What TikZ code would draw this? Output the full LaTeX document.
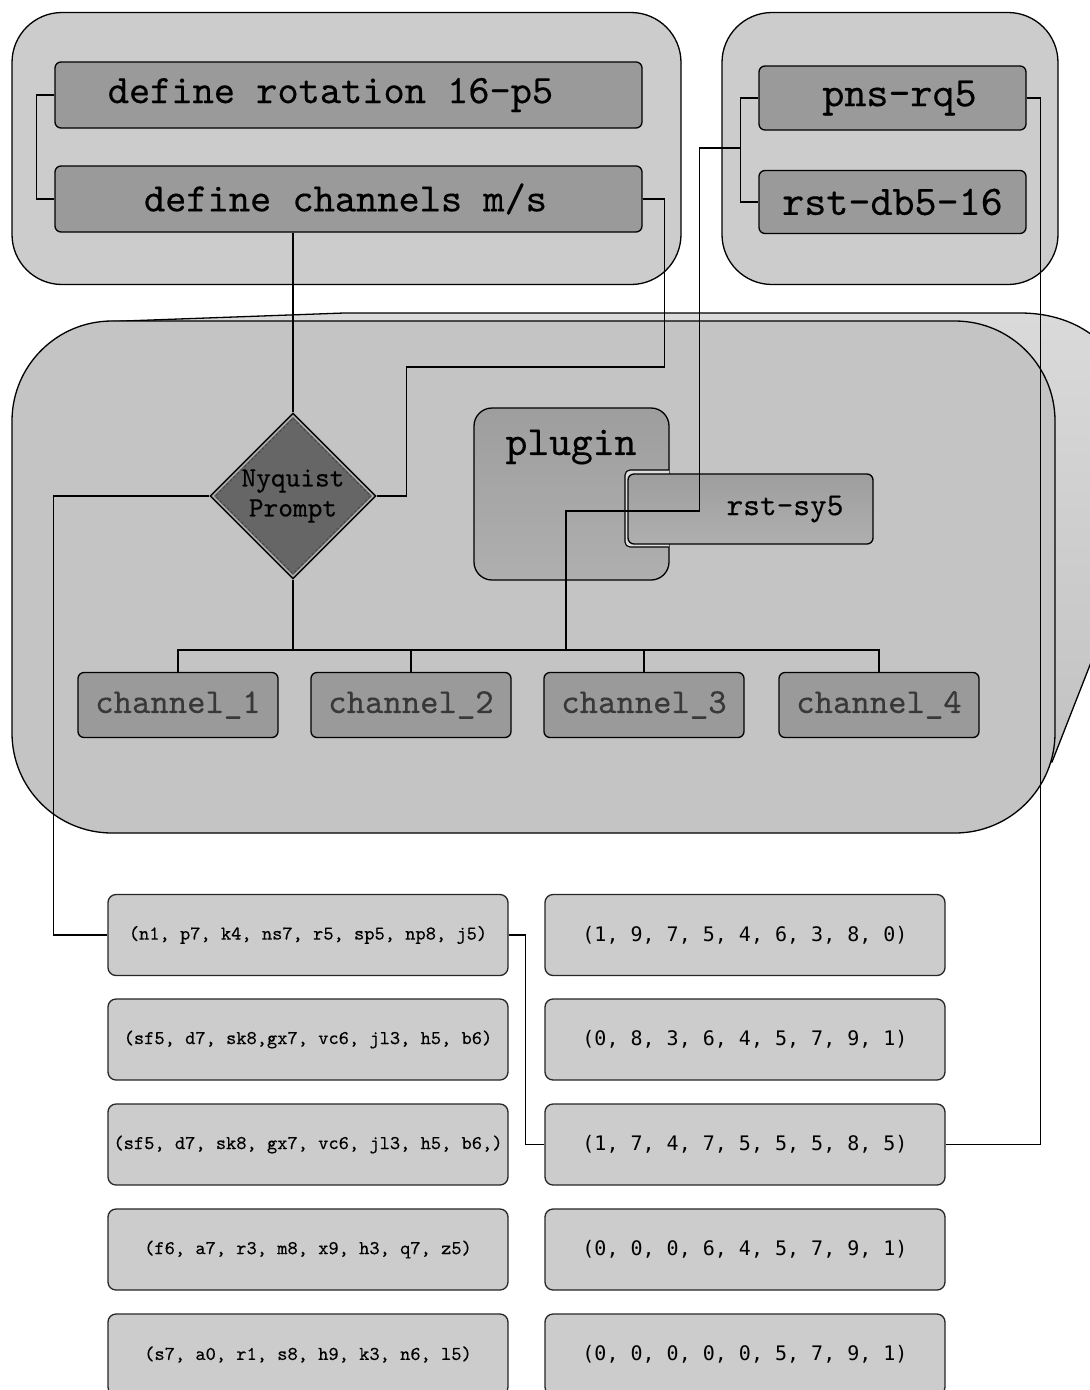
\documentclass[tikz,border=0pt]{standalone}
\usepackage{fontspec}
\newfontfamily\slabmono{lmmono10-regular.otf}[FakeBold=0.35]
\newfontfamily\digitmono{DejaVu Sans Mono}
\usetikzlibrary{shapes.geometric,calc}

\definecolor{groupgray}{HTML}{CCCCCC}
\definecolor{panelgray}{HTML}{C4C4C4}
\definecolor{boxgray}{HTML}{9A9A9A}
\definecolor{chantext}{HTML}{383838}
\definecolor{decisiongray}{HTML}{666666}
\definecolor{sidelight}{HTML}{DADADA}
\definecolor{sidedark}{HTML}{C2C2C2}
\definecolor{plugtop}{HTML}{9E9E9E}
\definecolor{plugbottom}{HTML}{AFAFAF}
\definecolor{gapgray}{HTML}{DEDEDE}

\begin{document}
\begin{tikzpicture}[x=1pt,y=-1pt,
  conn/.style={draw=black,line width=1.3pt},
  container/.style={draw=black,line width=1.3pt,fill=groupgray,rounded corners=50pt,inner sep=0pt},
  headbox/.style={draw=black,line width=1.3pt,fill=boxgray,rounded corners=6pt,inner sep=0pt,
    font=\slabmono\fontsize{40.4}{44}\selectfont},
  chanbox/.style={draw=black,line width=1.3pt,fill=boxgray,rounded corners=6pt,inner sep=0pt,
    minimum width=200pt,minimum height=65pt,text=chantext,font=\slabmono\fontsize{35}{38}\selectfont},
  tuplebox/.style={draw=black!85,line width=1.3pt,fill=groupgray,rounded corners=8pt,inner sep=0pt,
    minimum width=400pt,minimum height=81pt},
  lefttuple/.style={tuplebox,font=\slabmono\fontsize{19.5}{22}\selectfont},
  righttuple/.style={tuplebox,font=\digitmono\fontsize{20}{24}\selectfont},
  pluginbox/.style={draw=black,line width=1.3pt,top color=plugtop,bottom color=plugbottom,
    rounded corners=18pt,inner sep=0pt},
]
\useasboundingbox (0,0) rectangle (1090,1390);
\fill[white] (0,0) rectangle (1090,1390);

\begin{scope}
\clip (0,0) rectangle (1090,1390);

% top groups
\node[container,minimum width=669pt,minimum height=272pt] (groupL) at (346.5,148.5) {};
\node[container,minimum width=336pt,minimum height=272pt] (groupR) at (890,148.5) {};

\node[headbox,minimum width=587pt,minimum height=66pt] (rot) at (348.5,95) {\raisebox{-3pt}{define rotation 16-p5}\hspace*{36pt}};
\node[headbox,minimum width=587pt,minimum height=66pt] (chn) at (348.5,199) {\raisebox{-2pt}{define channels m/s}\hspace*{6pt}};
\node[headbox,minimum width=267pt,minimum height=64pt,font=\slabmono\fontsize{42}{46}\selectfont] (pns) at (892.5,98) {\hspace*{14pt}pns-rq5};
\node[headbox,minimum width=267pt,minimum height=63pt,font=\slabmono\fontsize{42}{46}\selectfont] (rdb) at (892.5,202) {rst-db5-16};

% extruded back face of the main panel
\path[draw=black,line width=1.3pt,top color=sidelight,bottom color=sidedark]
  (110,321.5) -- (344,313) -- (1020,313)
  .. controls (1090,313) and (1135,360) .. (1135,430)
  -- (1135,550) -- (1052,762) -- (600,700) -- cycle;

% main panel
\draw[line width=1.3pt,fill=panelgray,rounded corners=100pt] (12,321) rectangle (1055,833);

% decision
\node[diamond,aspect=1,draw=black,line width=1.3pt,fill=decisiongray,inner sep=0pt,
  minimum width=166pt,minimum height=166pt,align=center,
  font=\slabmono\fontsize{28}{30}\selectfont] (nyq) at (293,496) {Nyquist\\Prompt};
\draw[draw=black!28,line width=1pt]
  ($(nyq.north)+(0,3.5)$) -- ($(nyq.east)+(-3.5,0)$) -- ($(nyq.south)+(0,-3.5)$) -- ($(nyq.west)+(3.5,0)$) -- cycle;
\draw[draw=black!75,line width=0.6pt,dash pattern=on 3pt off 2pt]
  ($(nyq.north)+(0,6)$) -- ($(nyq.east)+(-6,0)$) -- ($(nyq.south)+(0,-6)$) -- ($(nyq.west)+(6,0)$) -- cycle;

% plugin with its nested step
\node[pluginbox,minimum width=195pt,minimum height=172pt] (plug) at (571.5,494) {};
\node[font=\slabmono\fontsize{41.5}{44}\selectfont] (plugtxt) at (571,447) {plugin};
\begin{scope}
  \clip (600,460) rectangle (669,560);
  \draw[line width=1.1pt,fill=gapgray,rounded corners=5pt] (625,470) rectangle (720,547);
\end{scope}
\node[draw=black,line width=1.3pt,top color=plugtop,bottom color=plugbottom,rounded corners=6pt,
  inner sep=0pt,minimum width=245pt,minimum height=70pt,
  font=\slabmono\fontsize{31.8}{34}\selectfont] (rsty) at (750.5,509) {\hspace*{69pt}rst-sy5};

% channels
\node[chanbox] (c1) at (178,705) {channel\_1};
\node[chanbox] (c2) at (411,705) {channel\_2};
\node[chanbox] (c3) at (644,705) {channel\_3};
\node[chanbox] (c4) at (879,705) {channel\_4};

% tuples
\node[lefttuple] (t1) at (308,935) {(n1, p7, k4, ns7, r5, sp5, np8, j5)};
\node[lefttuple] (t2) at (308,1039.5) {(sf5, d7, sk8,gx7, vc6, jl3, h5, b6)};
\node[lefttuple] (t3) at (308,1144.5) {(sf5, d7, sk8, gx7, vc6, jl3, h5, b6,)};
\node[lefttuple] (t4) at (308,1249.5) {(f6, a7, r3, m8, x9, h3, q7, z5)};
\node[lefttuple] (t5) at (308,1354.5) {(s7, a0, r1, s8, h9, k3, n6, l5)};
\node[righttuple] (r1) at (745,935) {(1, 9, 7, 5, 4, 6, 3, 8, 0)};
\node[righttuple] (r2) at (745,1039.5) {(0, 8, 3, 6, 4, 5, 7, 9, 1)};
\node[righttuple] (r3) at (745,1144.5) {(1, 7, 4, 7, 5, 5, 5, 8, 5)};
\node[righttuple] (r4) at (745,1249.5) {(0, 0, 0, 6, 4, 5, 7, 9, 1)};
\node[righttuple] (r5) at (745,1354.5) {(0, 0, 0, 0, 0, 5, 7, 9, 1)};

% connectors
\coordinate (bus) at ($(c1.north)+(0,-22)$);
\coordinate (jR) at ($(pns.west)!0.5!(rdb.west)+(-18,-2)$);
\coordinate (plugbend) at (566,511);

\draw[conn] (rot.west) -- ++(-18,0) |- (chn.west);
\draw[conn] (pns.west) -- ++(-18,0) |- (rdb.west);
\draw[conn] (chn.south -| nyq.north) -- (nyq.north);
\draw[conn] (chn.east) -- ++(22,0) -- ++(0,168) -| ($(nyq.east)+(30,0)$) -- (nyq.east);
\draw[conn] (nyq.west) -- ++(-156,0) |- (t1.west);
\draw[conn] (t1.east) -- ++(17,0) |- (r3.west);
\draw[conn] (pns.east) -| ($(r3.east)+(95,0)$) -- (r3.east);
\draw[conn] (jR) -- ++(-41,0) |- (plugbend) -- (plugbend |- bus);
\draw[conn] (nyq.south) -- (nyq.south |- bus);
\draw[conn] (c1.north) -- (bus) -| (c4.north);
\draw[conn] (c2.north) -- (c2.north |- bus);
\draw[conn] (c3.north) -- (c3.north |- bus);
\end{scope}
\end{tikzpicture}
\end{document}
